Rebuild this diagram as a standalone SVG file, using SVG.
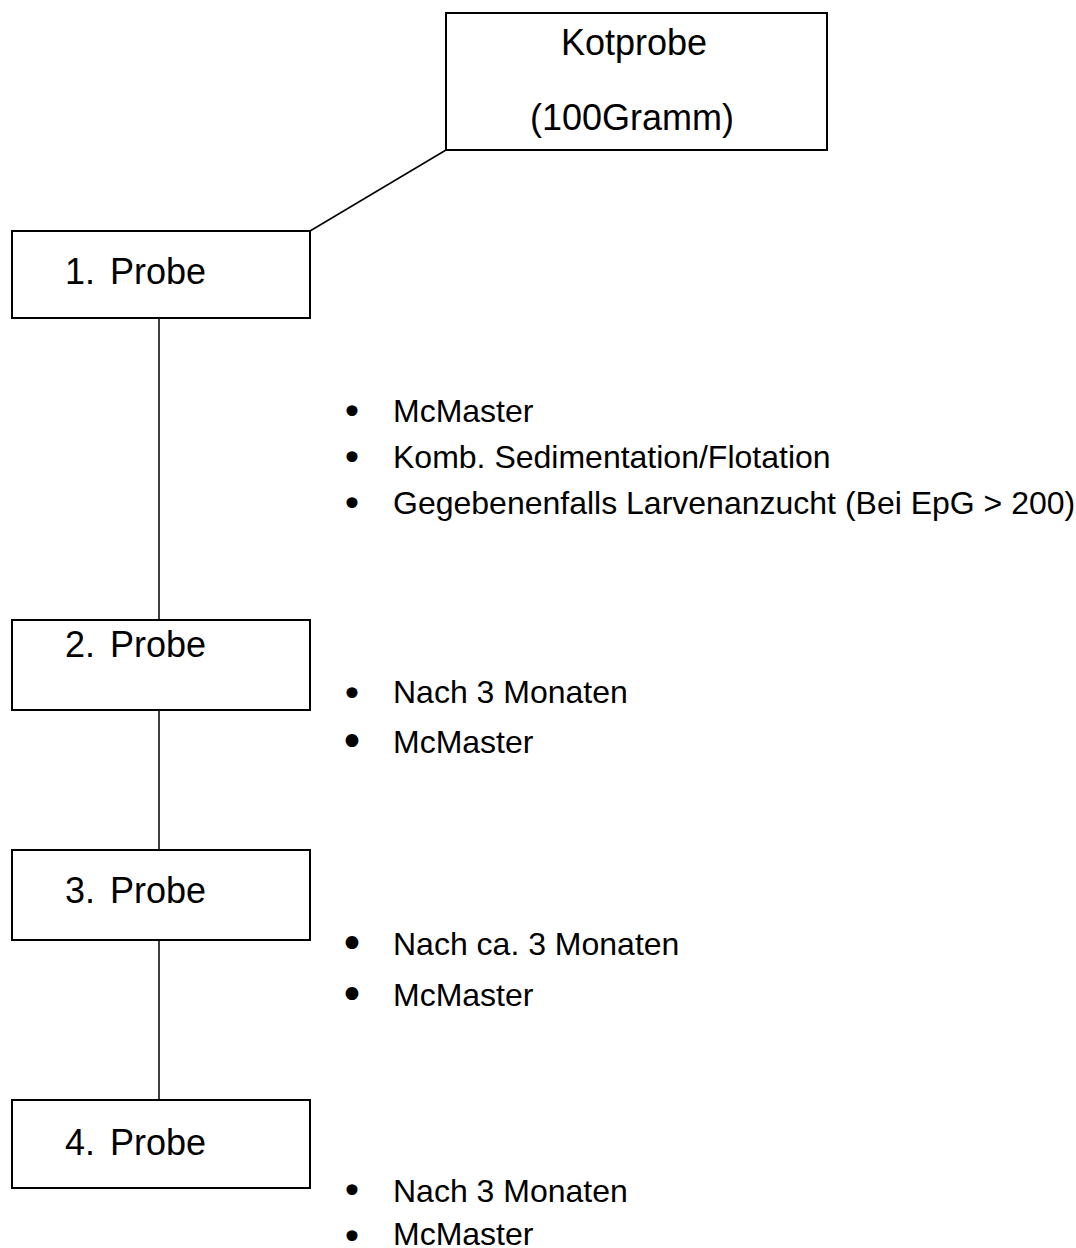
<svg xmlns="http://www.w3.org/2000/svg" width="1076" height="1248" viewBox="0 0 1076 1248">
<style>
.box{fill:#fff;stroke:#000;stroke-width:2}
.lbl{font-family:"Liberation Sans",Arial,sans-serif;font-size:36px;fill:#000}
.itm{font-family:"Liberation Sans",Arial,sans-serif;font-size:32px;fill:#000}
.bul{font-family:"DejaVu Sans",sans-serif;font-size:38px;fill:#000;text-anchor:middle}
.bul2{font-family:"DejaVu Sans",sans-serif;font-size:44px;fill:#000;text-anchor:middle}
.con{stroke:#000;stroke-width:1.5;fill:none}
</style>
<rect width="1076" height="1248" fill="#fff"/>
<g id="connectors">
<line class="con" x1="446" y1="150" x2="310" y2="231"/>
<line class="con" x1="159" y1="318" x2="159" y2="620"/>
<line class="con" x1="159" y1="703" x2="159" y2="850"/>
<line class="con" x1="159" y1="940" x2="159" y2="1100"/>
</g>
<g id="kotprobe">
<rect class="box" x="446" y="13" width="381" height="137"/>
<text class="lbl" x="634" y="55" text-anchor="middle">Kotprobe</text>
<text class="lbl" x="632" y="130" text-anchor="middle">(100Gramm)</text>
</g>
<g id="probe1">
<rect class="box" x="12" y="231" width="298" height="87"/>
<text class="lbl" x="65" y="284">1. <tspan x="110">Probe</tspan></text>
</g>
<g id="probe2">
<rect class="box" x="12" y="620" width="298" height="90"/>
<text class="lbl" x="65" y="657">2. <tspan x="110">Probe</tspan></text>
</g>
<g id="probe3">
<rect class="box" x="12" y="850" width="298" height="90"/>
<text class="lbl" x="65" y="903">3. <tspan x="110">Probe</tspan></text>
</g>
<g id="probe4">
<rect class="box" x="12" y="1100" width="298" height="88"/>
<text class="lbl" x="65" y="1155">4. <tspan x="110">Probe</tspan></text>
</g>
<g id="notes1">
<text class="bul" x="352" y="425">•</text>
<text class="itm" x="393" y="422">McMaster</text>
<text class="bul" x="352" y="471">•</text>
<text class="itm" x="393" y="468">Komb. Sedimentation/Flotation</text>
<text class="bul" x="352" y="517">•</text>
<text class="itm" x="393" y="514">Gegebenenfalls Larvenanzucht (Bei EpG &gt; 200)</text>
</g>
<g id="notes2">
<text class="bul" x="352" y="707">•</text>
<text class="itm" x="393" y="703">Nach 3 Monaten</text>
<text class="bul2" x="352" y="757">•</text>
<text class="itm" x="393" y="753">McMaster</text>
</g>
<g id="notes3">
<text class="bul2" x="352" y="959">•</text>
<text class="itm" x="393" y="955">Nach ca. 3 Monaten</text>
<text class="bul2" x="352" y="1010">•</text>
<text class="itm" x="393" y="1006">McMaster</text>
</g>
<g id="notes4">
<text class="bul" x="352" y="1204">•</text>
<text class="itm" x="393" y="1202">Nach 3 Monaten</text>
<text class="bul" x="352" y="1250">•</text>
<text class="itm" x="393" y="1245">McMaster</text>
</g>
</svg>
